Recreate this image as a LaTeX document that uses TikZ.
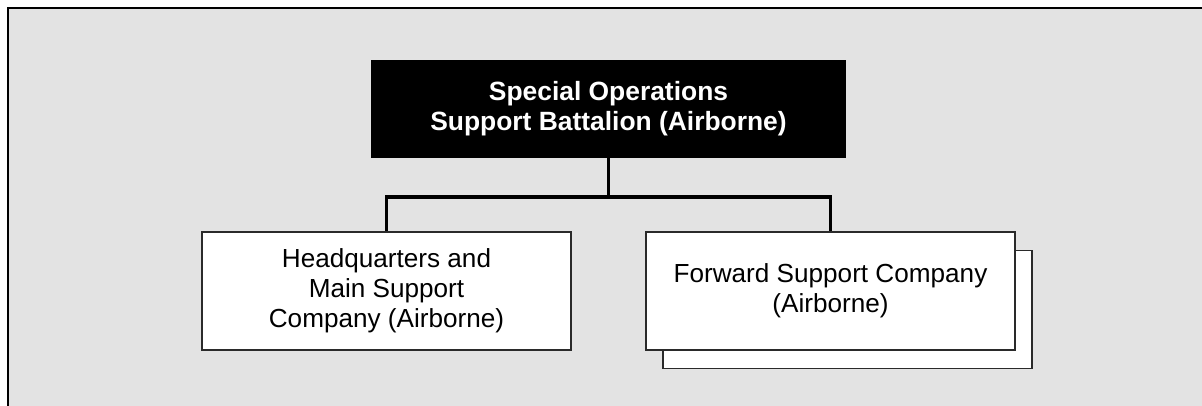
\documentclass[tikz,border=0pt]{standalone}
\usepackage{fontspec}
\setmainfont{Liberation Sans}
\definecolor{bggray}{HTML}{E3E3E3}
\definecolor{edgegray}{HTML}{2A2A2A}
\begin{document}
\begin{tikzpicture}[x=0.75pt,y=-0.75pt,
  unitbox/.style={draw=edgegray, line width=1.3pt, fill=white, align=center,
    minimum width=276.75pt, minimum height=88.5pt, inner sep=0pt,
    font=\fontsize{19.6pt}{22.5pt}\selectfont},
  topbox/.style={draw=black, line width=1pt, fill=black, text=white, align=center,
    minimum width=355.5pt, minimum height=72pt, inner sep=0pt,
    font=\fontsize{19.8pt}{22.5pt}\selectfont\bfseries},
  link/.style={draw=black, line width=2.3pt}]
\useasboundingbox (0,0) rectangle (1202,406);
\fill[white] (0,0) rectangle (1202,406);
\fill[bggray] (8,8) rectangle (1202,406);
\draw[line width=2.1pt, black] (8,406) -- (8,8) -- (1202,8);
% nodes
\node[topbox] (sosb) at (608.5,109) {Special Operations\\Support Battalion (Airborne)};
\node[unitbox] (hq) at (386.5,291) {Headquarters and\\Main Support\\Company (Airborne)};
\node[unitbox] (fscback) at (847.5,309.5) {};
\node[unitbox] (fsc) at (830.5,291) {Forward Support Company\\(Airborne)};
% connectors
\coordinate (bus) at (608.5,197);
\draw[link] (sosb.south) -- (bus);
\draw[link] (bus) -| (hq.north);
\draw[link] (bus) -| (fsc.north);
\end{tikzpicture}
\end{document}
